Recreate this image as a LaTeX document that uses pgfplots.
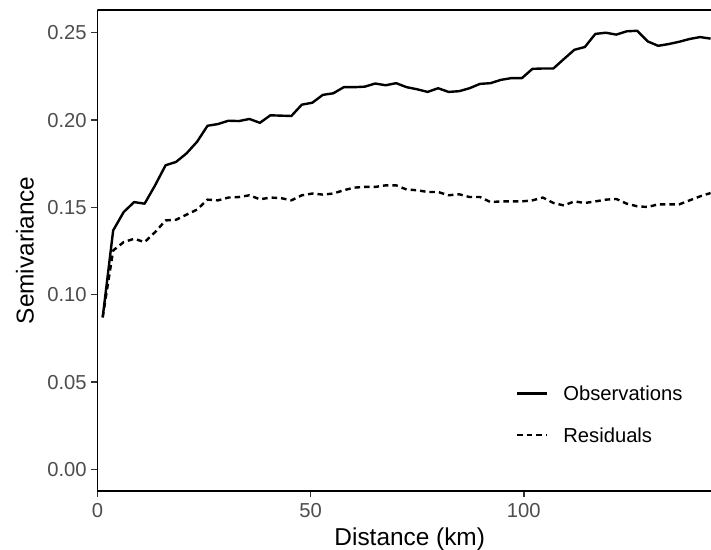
\documentclass[border=0pt]{standalone}
\usepackage{pgfplots}
\pgfplotsset{compat=1.18}
\usepackage{pgfplotstable}
\usepackage{fontspec}
\setmainfont{Liberation Sans}
\definecolor{tickgrey}{HTML}{4D4D4D}
\definecolor{tickmark}{HTML}{333333}

\pgfplotstableread{
x obs res
1.24 0.0870 0.0870
3.70 0.1368 0.1253
6.16 0.1473 0.1301
8.61 0.1530 0.1320
11.07 0.1521 0.1301
13.53 0.1626 0.1358
15.99 0.1741 0.1425
18.45 0.1760 0.1429
20.90 0.1809 0.1458
23.36 0.1875 0.1487
25.82 0.1967 0.1544
28.28 0.1977 0.1540
30.74 0.1996 0.1556
33.19 0.1994 0.1559
35.65 0.2006 0.1569
38.11 0.1984 0.1546
40.57 0.2027 0.1556
43.03 0.2025 0.1553
45.48 0.2023 0.1540
47.94 0.2088 0.1569
50.40 0.2099 0.1579
52.86 0.2144 0.1573
55.32 0.2153 0.1579
57.77 0.2188 0.1598
60.23 0.2188 0.1613
62.69 0.2191 0.1617
65.15 0.2209 0.1617
67.61 0.2199 0.1626
70.06 0.2211 0.1626
72.52 0.2188 0.1602
74.98 0.2176 0.1598
77.44 0.2161 0.1588
79.90 0.2182 0.1588
82.35 0.2161 0.1569
84.81 0.2165 0.1575
87.27 0.2182 0.1559
89.73 0.2207 0.1559
92.19 0.2211 0.1530
94.64 0.2230 0.1534
97.10 0.2240 0.1534
99.56 0.2240 0.1534
102.02 0.2293 0.1540
104.48 0.2295 0.1556
106.93 0.2295 0.1525
109.39 0.2349 0.1511
111.85 0.2402 0.1534
114.31 0.2418 0.1525
116.77 0.2493 0.1534
119.22 0.2500 0.1544
121.68 0.2489 0.1548
124.14 0.2508 0.1521
126.60 0.2511 0.1506
129.06 0.2450 0.1502
131.51 0.2425 0.1517
133.97 0.2435 0.1517
136.43 0.2448 0.1517
138.89 0.2464 0.1540
141.35 0.2475 0.1563
143.80 0.2466 0.1582
}\semivar

\begin{document}
\begin{tikzpicture}
\useasboundingbox (0,0) rectangle (711bp,550bp);
\begin{axis}[
  at={(97.4bp,59.3bp)}, anchor=south west,
  scale only axis, width=613.6bp, height=480.7bp,
  xmin=0, xmax=143.9, ymin=-0.01225, ymax=0.263,
  axis lines*=left,
  axis line style={-, black, line width=1.6bp},
  tick align=outside,
  major tick length=6.5bp,
  every tick/.style={tickmark, line width=1.6bp},
  minor tick num=0,
  xtick={0,50,100}, xticklabels={0,50,100},
  ytick={0,0.05,0.10,0.15,0.20,0.25},
  yticklabels={0.00,0.05,0.10,0.15,0.20,0.25},
  /pgf/number format/assume math mode=true,
  ticklabel style={font=\fontsize{20.2bp}{24bp}\selectfont, text=tickgrey, inner sep=0pt, text height=14.4bp, text depth=0bp},
  xticklabel style={anchor=north, yshift=-5.3bp},
  yticklabel style={anchor=east, xshift=-4bp},
  xlabel={Distance (km)}, ylabel={Semivariance},
  label style={font=\fontsize{24.4bp}{28bp}\selectfont},
  xlabel style={at={(axis description cs:0.509,-0.1130)}, anchor=base, inner sep=0pt},
  ylabel style={at={(axis description cs:-0.1041,0.5)}, anchor=base, rotate=0, inner sep=0pt},
  legend style={draw=none, fill=none, inner sep=0pt, outer sep=0pt,
    at={(axis description cs:0.6822,0.1591)}, anchor=west,
    font=\fontsize{20.2bp}{24bp}\selectfont,
    nodes={inner sep=0pt, text height=14.4bp, text depth=0bp},
    row sep=27.3bp, column sep=15bp},
  legend cell align=left,
  legend image code/.code={\draw[#1] (0bp,0bp) -- (30bp,0bp);},
]
\draw[black, line width=1.6bp] (rel axis cs:0,1) -- (rel axis cs:1,1);
\addplot[black, line width=2.4bp, line join=round] table[x=x, y=obs] {\semivar};
\addlegendentry{Observations}
\addplot[black, line width=2.4bp, line join=round, dash pattern=on 5.5bp off 4bp] table[x=x, y=res] {\semivar};
\addlegendentry{Residuals}
\end{axis}
\end{tikzpicture}
\end{document}
